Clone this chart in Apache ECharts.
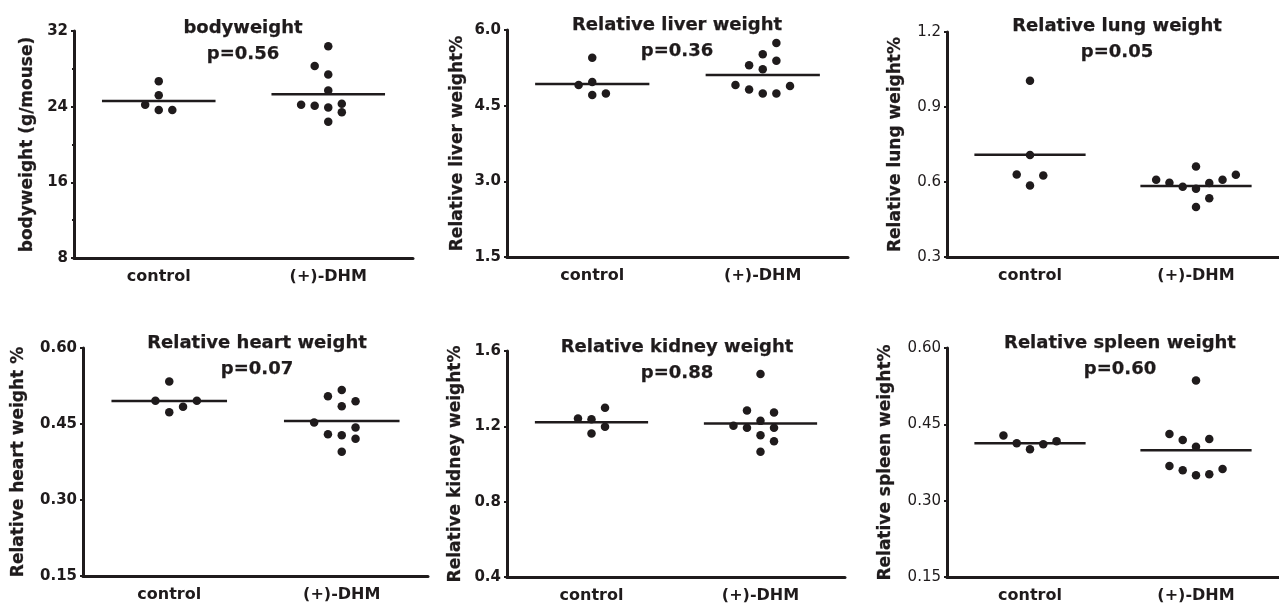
<!DOCTYPE html>
<html>
<head>
    <meta charset="utf-8">
    <title>Organ weights</title>
    <script src="https://cdn.jsdelivr.net/npm/echarts@6/dist/echarts.min.js"></script>
</head>
<body style="margin:0;background:#fff">
    <div id="main" style="width: 1279px;height:604px;"></div>
    <script type="text/javascript">
var myChart = echarts.init(document.getElementById('main'));

// groups on the x axis
var groups = ['control', '(+)-DHM'];

var titles = ['bodyweight', 'Relative liver weight', 'Relative lung weight',
    'Relative heart weight', 'Relative kidney weight', 'Relative spleen weight'];
var pValues = ['p=0.56', 'p=0.36', 'p=0.05', 'p=0.07', 'p=0.88', 'p=0.60'];
var yNames = ['bodyweight (g/mouse)', 'Relative liver weight%', 'Relative lung weight%',
    'Relative heart weight %', 'Relative kidney weight%', 'Relative spleen weight%'];

// y axis: min, max, interval, decimals
var yMin = [8, 1.5, 0.3, 0.15, 0.4, 0.15];
var yMax = [32, 6.0, 1.2, 0.60, 1.6, 0.60];
var yStep = [8, 1.5, 0.3, 0.15, 0.4, 0.15];
var yDecimals = [0, 1, 1, 2, 1, 2];

// values; cols = column of each dot inside its group
var bwControl = [26.7, 25.2, 24.2, 23.65, 23.65];
var bwControlCols = [0, 0, -1, 0, 1];
var bwDhm = [30.4, 28.3, 27.4, 25.7, 24.2, 24.1, 23.9, 24.3, 23.4, 22.4];
var bwDhmCols = [0, -1, 0, 0, -2, -1, 0, 1, 1, 0];
var bwMeans = [24.6, 25.3];

var liverControl = [5.45, 4.97, 4.91, 4.71, 4.74];
var liverControlCols = [0, 0, -1, 0, 1];
var liverDhm = [5.74, 5.52, 5.39, 5.30, 5.22, 4.91, 4.82, 4.74, 4.74, 4.89];
var liverDhmCols = [1, 0, 1, -1, 0, -2, -1, 0, 1, 2];
var liverMeans = [4.93, 5.11];

var lungControl = [1.005, 0.708, 0.630, 0.626, 0.586];
var lungControlCols = [0, 0, -1, 1, 0];
var lungDhm = [0.662, 0.609, 0.597, 0.581, 0.573, 0.596, 0.609, 0.629, 0.535, 0.500];
var lungDhmCols = [0, -3, -2, -1, 0, 1, 2, 3, 1, 0];
var lungMeans = [0.709, 0.584];

var heartControl = [0.534, 0.496, 0.496, 0.473, 0.484];
var heartControlCols = [0, -1, 2, 0, 1];
var heartDhm = [0.517, 0.505, 0.485, 0.495, 0.453, 0.443, 0.430, 0.428, 0.421, 0.395];
var heartDhmCols = [0, -1, 0, 1, -2, 1, -1, 0, 1, 0];
var heartMeans = [0.4955, 0.456];

var kidneyControl = [1.299, 1.242, 1.238, 1.198, 1.162];
var kidneyControlCols = [1, -1, 0, 1, 0];
var kidneyDhm = [1.478, 1.284, 1.274, 1.229, 1.203, 1.192, 1.192, 1.153, 1.121, 1.065];
var kidneyDhmCols = [0, -1, 1, 0, -2, -1, 1, 0, 1, 0];
var kidneyMeans = [1.222, 1.215];

var spleenControl = [0.428, 0.413, 0.401, 0.411, 0.417];
var spleenControlCols = [-2, -1, 0, 1, 2];
var spleenDhm = [0.536, 0.431, 0.419, 0.421, 0.406, 0.368, 0.360, 0.350, 0.352, 0.362];
var spleenDhmCols = [0, -2, -1, 1, 0, -2, -1, 0, 1, 2];
var spleenMeans = [0.413, 0.399];

var panels = [
    [bwControl, bwControlCols, bwDhm, bwDhmCols, bwMeans],
    [liverControl, liverControlCols, liverDhm, liverDhmCols, liverMeans],
    [lungControl, lungControlCols, lungDhm, lungDhmCols, lungMeans],
    [heartControl, heartControlCols, heartDhm, heartDhmCols, heartMeans],
    [kidneyControl, kidneyControlCols, kidneyDhm, kidneyDhmCols, kidneyMeans],
    [spleenControl, spleenControlCols, spleenDhm, spleenDhmCols, spleenMeans]
];

// layout (pixels)
var gridBox = [
    {left: 74, top: 31, width: 339, height: 227},
    {left: 507, top: 30, width: 341, height: 227},
    {left: 947, top: 32, width: 343, height: 225},
    {left: 83, top: 348, width: 345, height: 228},
    {left: 507, top: 351, width: 338, height: 226},
    {left: 947, top: 348, width: 343, height: 229}
];
var titlePos = [[243, 19], [677, 16], [1117, 17], [257, 334], [677, 338], [1120, 334]];
var nameGaps = [38, 41, 43, 56, 43, 53];
var labelBold = [true, true, false, true, true, false];

var ink = '#1f1b1c';
var font = 'DejaVu Sans';
var colStep = 0.08;
var halfLine = 0.335;

// bold text, slightly thickened
function heavy(size, extra) {
    return {color: ink, fontFamily: font, fontWeight: 'bold', fontSize: size,
        textBorderColor: ink, textBorderWidth: extra};
}

var grid = [], xAxis = [], yAxis = [], title = [], series = [];

panels.forEach(function (p, k) {
    grid.push(gridBox[k]);
    title.push({
        text: titles[k],
        subtext: pValues[k],
        left: titlePos[k][0],
        top: titlePos[k][1],
        padding: 0,
        itemGap: 8,
        textAlign: 'center',
        textStyle: heavy(18, 0.25),
        subtextStyle: heavy(18, 0.25)
    });
    xAxis.push({
        type: 'category',
        gridIndex: k,
        data: groups,
        boundaryGap: true,
        axisLine: {lineStyle: {color: ink, width: 3}},
        axisTick: {show: false},
        axisLabel: Object.assign(heavy(16, 0), {margin: 11}),
        splitLine: {show: false}
    });
    xAxis.push({
        type: 'value',
        gridIndex: k,
        min: 0,
        max: 2,
        show: false,
        splitLine: {show: false}
    });
    yAxis.push({
        type: 'value',
        gridIndex: k,
        min: yMin[k],
        max: yMax[k],
        interval: yStep[k],
        name: yNames[k],
        nameLocation: 'middle',
        nameGap: nameGaps[k],
        nameTextStyle: heavy(17, 0.25),
        axisLine: {show: true, lineStyle: {color: ink, width: 3}},
        axisTick: {show: true, length: 3, lineStyle: {color: ink, width: 2}},
        minorTick: {show: k === 0, splitNumber: 2, length: 2, lineStyle: {color: ink, width: 2}},
        splitLine: {show: false},
        axisLabel: {
            color: ink, fontFamily: font, fontSize: 15, margin: 6,
            fontWeight: labelBold[k] ? 'bold' : 'normal',
            formatter: function (v) { return v.toFixed(yDecimals[k]); }
        }
    });

    var vals = [p[0], p[2]];
    var cols = [p[1], p[3]];
    var means = p[4];
    [0, 1].forEach(function (g) {
        var center = g + 0.5;
        series.push({
            type: 'scatter',
            xAxisIndex: 2 * k + 1,
            yAxisIndex: k,
            symbol: 'circle',
            symbolSize: 8.5,
            itemStyle: {color: ink, opacity: 1},
            silent: true,
            data: vals[g].map(function (v, i) { return [center + cols[g][i] * colStep, v]; })
        });
        series.push({
            type: 'line',
            xAxisIndex: 2 * k + 1,
            yAxisIndex: k,
            symbol: 'none',
            silent: true,
            lineStyle: {color: ink, width: 2.5},
            data: [[center - halfLine, means[g]], [center + halfLine, means[g]]]
        });
    });
});

var option = {
    backgroundColor: '#ffffff',
    animation: false,
    title: title,
    grid: grid,
    xAxis: xAxis,
    yAxis: yAxis,
    series: series
};
myChart.setOption(option);
    </script>
</body>
</html>
